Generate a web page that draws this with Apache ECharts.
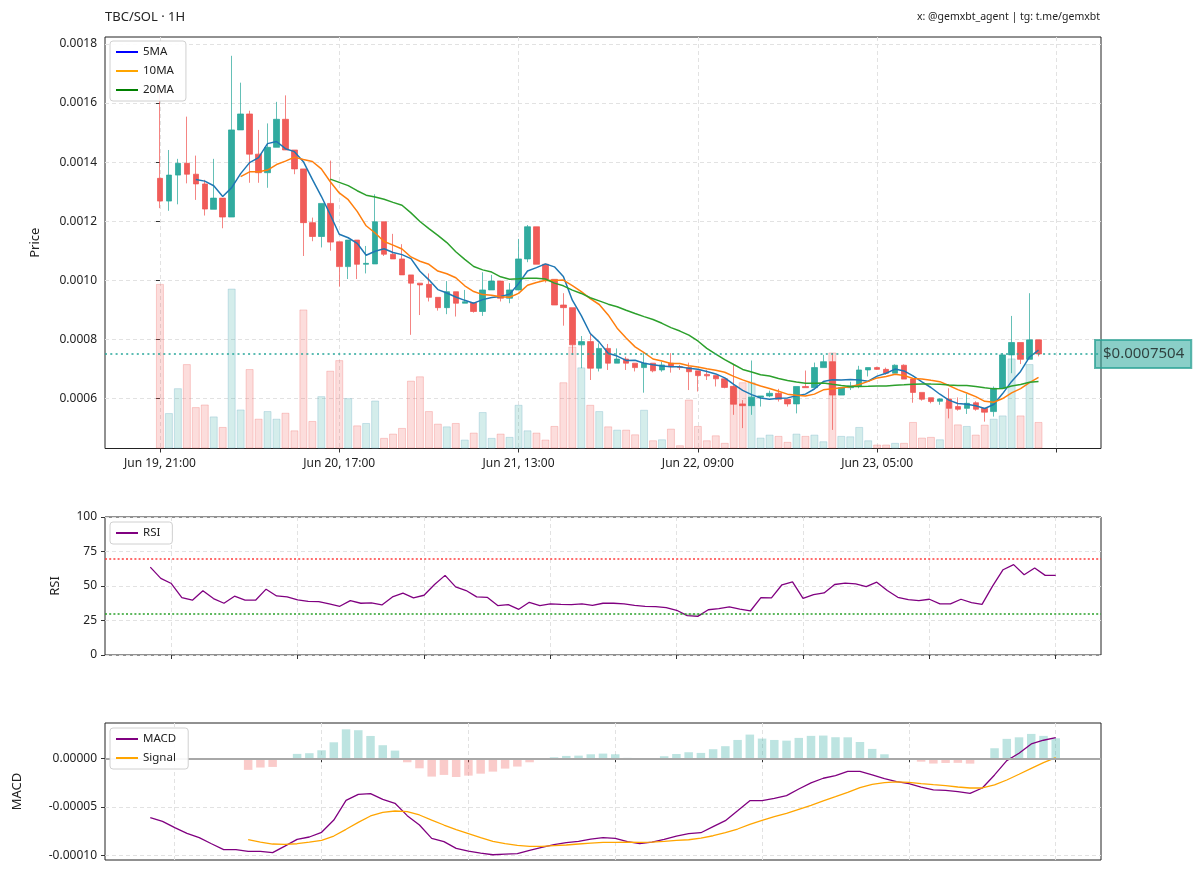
<!DOCTYPE html>
<html><head><meta charset="utf-8">
<script src="https://cdn.jsdelivr.net/npm/echarts@6/dist/echarts.min.js"></script>
<style>html,body{margin:0;padding:0;background:#fff}#c{width:1200px;height:877px}</style>
</head><body><div id="c"></div>
<script>
const FONT = "'Noto Sans', 'Open Sans', sans-serif";

// ---- x ticks (candle index, 1 candle = 1 hour starting Jun 19 21:00) ----
const mainTickIdx = [0, 20, 40, 60, 80, 100];
const mainTickLabels = ['Jun 19, 21:00', 'Jun 20, 17:00', 'Jun 21, 13:00', 'Jun 22, 09:00', 'Jun 23, 05:00', ''];
const rsiTickIdx = [14, 26, 38, 50, 62, 74, 86, 98];
const macdTickIdx = [26, 38, 50, 62, 74, 86, 98];

// ---- OHLC ----
const opens = [0.001345,0.001268,0.001356,0.001396,0.001359,0.001326,0.001240,0.001278,0.001214,0.001509,
0.001563,0.001427,0.001364,0.001450,0.001545,0.001441,0.001377,0.001195,0.001148,0.001260,
0.001130,0.001046,0.001136,0.001054,0.001055,0.001198,0.001088,0.001072,0.001018,0.000990,
0.000986,0.000942,0.000907,0.000961,0.000922,0.000924,0.000894,0.000967,0.000997,0.000939,
0.000967,0.001072,0.001181,0.001054,0.001003,0.000916,0.000907,0.000781,0.000792,0.000702,
0.000769,0.000719,0.000733,0.000719,0.000704,0.000719,0.000696,0.000719,0.000707,0.000704,
0.000693,0.000681,0.000677,0.000666,0.000640,0.000581,0.000575,0.000604,0.000608,0.000617,
0.000597,0.000581,0.000640,0.000636,0.000704,0.000724,0.000611,0.000636,0.000640,0.000696,
0.000704,0.000698,0.000685,0.000712,0.000665,0.000620,0.000602,0.000590,0.000598,0.000572,
0.000566,0.000585,0.000566,0.000555,0.000634,0.000747,0.000789,0.000732,0.000798];
const highs = [0.001660,0.001441,0.001411,0.001554,0.001422,0.001340,0.001411,0.001278,0.001760,0.001669,
0.001574,0.001509,0.001531,0.001604,0.001626,0.001441,0.001377,0.001212,0.001260,0.001405,
0.001130,0.001136,0.001136,0.001116,0.001291,0.001198,0.001157,0.001122,0.001018,0.000990,
0.001023,0.000942,0.000997,0.000961,0.000967,0.000924,0.001027,0.001018,0.000997,0.000990,
0.001140,0.001187,0.001181,0.001054,0.001003,0.000956,0.000907,0.000811,0.000817,0.000786,
0.000784,0.000769,0.000741,0.000719,0.000753,0.000719,0.000724,0.000753,0.000713,0.000721,
0.000693,0.000696,0.000677,0.000666,0.000713,0.000594,0.000728,0.000608,0.000626,0.000632,
0.000597,0.000640,0.000694,0.000721,0.000747,0.000753,0.000636,0.000656,0.000710,0.000704,
0.000707,0.000704,0.000715,0.000715,0.000665,0.000620,0.000602,0.000600,0.000634,0.000603,
0.000615,0.000590,0.000566,0.000640,0.000753,0.000879,0.000789,0.000956,0.000798];
const lows = [0.001244,0.001235,0.001257,0.001328,0.001272,0.001219,0.001240,0.001176,0.001214,0.001509,
0.001330,0.001330,0.001313,0.001450,0.001441,0.001359,0.001082,0.001132,0.001111,0.001100,
0.000978,0.001004,0.001004,0.001023,0.001055,0.001082,0.001072,0.001018,0.000815,0.000882,
0.000928,0.000897,0.000885,0.000877,0.000922,0.000890,0.000879,0.000967,0.000928,0.000922,
0.000967,0.001061,0.001054,0.000992,0.000916,0.000846,0.000747,0.000702,0.000662,0.000691,
0.000696,0.000719,0.000696,0.000691,0.000619,0.000688,0.000690,0.000687,0.000696,0.000628,
0.000623,0.000662,0.000640,0.000634,0.000544,0.000499,0.000544,0.000572,0.000604,0.000589,
0.000572,0.000549,0.000636,0.000636,0.000704,0.000493,0.000611,0.000628,0.000634,0.000674,
0.000696,0.000680,0.000685,0.000665,0.000585,0.000592,0.000583,0.000578,0.000532,0.000558,
0.000547,0.000558,0.000521,0.000538,0.000634,0.000685,0.000716,0.000732,0.000742];
const closes = [0.001268,0.001356,0.001396,0.001359,0.001326,0.001241,0.001278,0.001214,0.001509,0.001563,
0.001427,0.001364,0.001450,0.001545,0.001441,0.001377,0.001195,0.001148,0.001260,0.001129,
0.001046,0.001136,0.001054,0.001057,0.001198,0.001088,0.001072,0.001018,0.000990,0.000984,
0.000942,0.000907,0.000961,0.000922,0.000927,0.000894,0.000967,0.000997,0.000939,0.000967,
0.001072,0.001181,0.001054,0.001003,0.000916,0.000907,0.000781,0.000792,0.000702,0.000769,
0.000719,0.000733,0.000719,0.000704,0.000719,0.000693,0.000713,0.000707,0.000704,0.000690,
0.000677,0.000676,0.000666,0.000637,0.000580,0.000575,0.000604,0.000608,0.000617,0.000597,
0.000581,0.000640,0.000636,0.000704,0.000724,0.000611,0.000636,0.000642,0.000696,0.000704,
0.000698,0.000685,0.000712,0.000665,0.000620,0.000597,0.000589,0.000598,0.000566,0.000563,
0.000583,0.000563,0.000553,0.000634,0.000747,0.000789,0.000732,0.000798,0.0007504];
const volumes = [165.7,35.7,60.7,85,41.7,44.3,32.3,21.7,161,39.3,80,30,37.7,30,36,18.3,140,27.7,52.7,
78.3,89,50.7,23.3,25.7,48.3,10.7,15,20.7,68.3,72.7,37.7,25,22.3,25.7,9,16,36.7,
10.7,15,11.7,44,18.3,16,9,22.7,66.7,102.7,81.7,44,37.7,22.3,19,19,14.3,39,8.3,
9.3,20,3.3,49.3,22.7,8.3,13.3,5.7,63.3,66.7,66.7,11,14,12.7,6.7,15,12.7,14,7.3,
96.7,12.7,12.3,21.7,8.3,4,4,5.7,5.7,26.7,11,11.7,9.3,46.7,24.3,22.7,14,24,30,33.3,90.7,33.3,85,26.7];

// ---- RSI (starts at candle 12) ----
const rsiStart = 12;
const rsiValues = [63.7,55.5,51.8,41.6,39.7,46.5,40.9,37.5,42.6,39.7,39.7,47.7,42.8,42.1,39.9,
38.9,38.7,37.0,35.3,39.4,37.5,37.7,36.3,42.1,44.8,41.4,43.3,51.1,57.7,49.4,46.7,42.1,41.8,35.8,36.5,
33.1,38.2,35.8,37.0,36.7,36.5,37.0,36.0,37.5,
37.5,37.0,36.0,35.3,35.0,34.3,32.4,28.5,28.0,32.8,33.6,34.8,33.3,31.9,41.6,41.4,50.9,53.0,41.1,43.8,
45.0,51.1,52.1,51.6,49.6,52.8,46.7,41.8,40.1,39.4,40.4,37.0,37.0,40.4,38.0,36.7,49.9,61.8,65.5,58.2,
63.0,57.7,57.7];

// ---- MACD (values in units of 1e-5) ----
const MACD_UNIT = 1e-5;
const macdStart = 24;
const macdValues = [-6.10,-6.47,-7.12,-7.71,-8.15,-8.77,-9.38,-9.38,-9.55,-9.55,-9.69,-9.01,-8.32,-8.08,-7.60,
-6.34,-4.32,-3.70,-3.63,-4.21,-4.62,-5.89,-6.85,-8.22,-8.56,-9.25,-9.52,-9.73,-9.90,-9.83,-9.79,-9.45,
-9.14,-8.87,-8.66,-8.53,-8.29,-8.15,
-8.22,-8.56,-8.77,-8.60,-8.32,-7.98,-7.74,-7.64,-7.02,-6.40,-5.38,-4.35,-4.35,-4.11,-3.84,-3.15,-2.53,
-2.05,-1.78,-1.34,-1.34,-1.71,-2.09,-2.40,-2.60,-2.95,-3.25,-3.29,-3.42,-3.60,-3.05,-1.71,-0.24,0.51,
1.47,1.85,2.12];
const signalStart = 32;
const signalValues = [-8.36,-8.60,-8.80,-8.84,-8.77,-8.60,-8.42,-7.98,-7.29,-6.58,-5.92,-5.55,-5.41,-5.48,
-5.82,-6.34,-6.85,-7.33,-7.74,-8.15,-8.53,-8.77,-8.94,-9.04,-9.04,-8.97,-8.90,-8.80,-8.70,-8.63,
-8.63,-8.60,-8.63,-8.60,-8.53,-8.42,-8.36,-8.19,-7.95,-7.64,-7.26,-6.78,-6.37,-5.99,-5.65,-5.24,-4.83,
-4.38,-3.94,-3.49,-3.01,-2.67,-2.50,-2.43,-2.47,-2.60,-2.71,-2.81,-2.95,-3.05,-3.05,-2.74,-2.23,-1.64,
-1.03,-0.45,0.07];

// ---- y ticks ----
const priceTicks = [0.0006, 0.0008, 0.0010, 0.0012, 0.0014, 0.0016, 0.0018];
const macdTicks = [-0.0001, -0.00005, 0];

// ---------- derived ----------
const UP = '#26a69a', DOWN = '#ef5350';
const n = closes.length;
const candleData = closes.map((c, i) => [i, opens[i], c, lows[i], highs[i]]);
const volData = volumes.map((v, i) => {
  const up = closes[i] >= opens[i];
  return { value: [i, v], itemStyle: {
    color: up ? 'rgba(38,166,154,0.2)' : 'rgba(239,83,80,0.2)',
    borderColor: up ? 'rgba(120,180,200,0.35)' : 'rgba(239,83,80,0.25)', borderWidth: 1 } };
});
function sma(p) { const out = []; for (let i = p - 1; i < n; i++) { let s = 0; for (let j = i - p + 1; j <= i; j++) s += closes[j]; out.push([i, s / p]); } return out; }
const lastClose = closes[n - 1];
const rsiData = rsiValues.map((v, k) => [rsiStart + k, v]);
const rsiLow = rsiValues.map((v, k) => [rsiStart + k, Math.min(v, 30)]);
const macdData = macdValues.map((v, k) => [macdStart + k, v * MACD_UNIT]);
const signalData = signalValues.map((v, k) => [signalStart + k, v * MACD_UNIT]);
const histData = signalValues.map((s, k) => {
  const idx = signalStart + k;
  const h = (macdValues[idx - macdStart] - s) * MACD_UNIT;
  return { value: [idx, h], itemStyle: { color: h >= 0 ? 'rgba(38,166,154,0.3)' : 'rgba(239,83,80,0.3)' } };
});

const GRID_L = 105, GRID_W = 996;
const labelStyle = { color: '#222', fontSize: 12, fontFamily: FONT };
const tickStyle = { show: true, length: 4, lineStyle: { color: '#333', width: 1 } };
const splitStyle = { show: true, lineStyle: { color: '#e2e2e2', type: [4, 3], width: 1 } };
const nameStyle = { color: '#222', fontSize: 13, fontFamily: FONT };
const legendBase = { orient: 'vertical', icon: 'rect', itemWidth: 22, itemHeight: 2, itemGap: 5, z: 20,
  padding: [4, 12, 4, 6], backgroundColor: 'rgba(255,255,255,0.92)', borderColor: '#d0d0d0', borderWidth: 1, borderRadius: 3,
  textStyle: { fontSize: 11.5, color: '#222', fontFamily: FONT, lineHeight: 14 } };

const option = {
  animation: false,
  backgroundColor: '#fff',
  textStyle: { fontFamily: FONT },
  title: [
    { text: 'TBC/SOL · 1H', left: 105, top: 11, padding: 0, textStyle: { fontSize: 13, fontWeight: 'normal', color: '#222', fontFamily: FONT } },
    { text: 'x: @gemxbt_agent | tg: t.me/gemxbt', right: 100, top: 12, padding: 0, textStyle: { fontSize: 10.5, fontWeight: 'normal', color: '#222', fontFamily: FONT } }
  ],
  legend: [
    Object.assign({}, legendBase, { left: 110, top: 41, data: [
      { name: '5MA', itemStyle: { color: '#0000ff' } },
      { name: '10MA', itemStyle: { color: '#ffa500' } },
      { name: '20MA', itemStyle: { color: '#008000' } }] }),
    Object.assign({}, legendBase, { left: 110, top: 522, data: [{ name: 'RSI', itemStyle: { color: '#800080' } }] }),
    Object.assign({}, legendBase, { left: 110, top: 728, data: [
      { name: 'MACD', itemStyle: { color: '#800080' } },
      { name: 'Signal', itemStyle: { color: '#ffa500' } }] })
  ],
  grid: [
    { left: GRID_L, top: 37, width: GRID_W, height: 411.5, show: true, borderColor: '#222', borderWidth: 1, backgroundColor: 'transparent' },
    { left: GRID_L, top: 517, width: GRID_W, height: 138, show: true, borderColor: '#222', borderWidth: 1, backgroundColor: 'transparent' },
    { left: GRID_L, top: 723, width: GRID_W, height: 137, show: true, borderColor: '#222', borderWidth: 1, backgroundColor: 'transparent' }
  ],
  xAxis: [
    { type: 'value', gridIndex: 0, min: -6.13, max: 104.97, axisLine: { show: false },
      axisTick: Object.assign({ customValues: mainTickIdx }, tickStyle),
      axisLabel: Object.assign({ customValues: mainTickIdx.slice(0, 5), margin: 9,
        formatter: v => mainTickLabels[mainTickIdx.indexOf(Math.round(v))] || '' }, labelStyle),
      splitLine: splitStyle },
    { type: 'value', gridIndex: 1, min: 7.7, max: 102.3, axisLine: { show: false },
      axisTick: Object.assign({ customValues: rsiTickIdx }, tickStyle),
      axisLabel: { show: false }, splitLine: splitStyle },
    { type: 'value', gridIndex: 2, min: 20.3, max: 101.7, axisLine: { show: false },
      axisTick: Object.assign({ customValues: macdTickIdx }, tickStyle),
      axisLabel: { show: false }, splitLine: splitStyle }
  ],
  yAxis: [
    { type: 'value', gridIndex: 0, min: 0.00043, max: 0.0018237, axisLine: { show: false },
      name: 'Price', nameLocation: 'middle', nameGap: 63, nameTextStyle: nameStyle,
      axisTick: Object.assign({ customValues: priceTicks }, tickStyle),
      axisLabel: Object.assign({ customValues: priceTicks, margin: 8, formatter: v => v.toFixed(4) }, labelStyle),
      splitLine: splitStyle },
    { type: 'value', gridIndex: 0, min: 0, max: Math.max.apply(null, volumes) * 2.5, show: false, splitLine: { show: false } },
    { type: 'value', gridIndex: 1, min: 0, max: 100, interval: 25, axisLine: { show: false },
      name: 'RSI', nameLocation: 'middle', nameGap: 43, nameTextStyle: nameStyle,
      axisTick: tickStyle, axisLabel: Object.assign({ margin: 8 }, labelStyle), splitLine: splitStyle },
    { type: 'value', gridIndex: 2, min: -0.0001044, max: 0.0000362, axisLine: { show: false },
      name: 'MACD', nameLocation: 'middle', nameGap: 81, nameTextStyle: nameStyle,
      axisTick: Object.assign({ customValues: macdTicks }, tickStyle),
      axisLabel: Object.assign({ customValues: macdTicks, margin: 8, formatter: v => v.toFixed(5) }, labelStyle),
      splitLine: splitStyle }
  ],
  series: [
    { name: 'Volume', type: 'bar', xAxisIndex: 0, yAxisIndex: 1, barWidth: 8, data: volData, z: 1, silent: true },
    { name: 'Price', type: 'candlestick', xAxisIndex: 0, yAxisIndex: 0, data: candleData,
      encode: { x: 0, y: [1, 2, 3, 4] }, barWidth: 6, z: 2, silent: true,
      itemStyle: { color: UP, color0: DOWN, borderColor: 'rgba(38,166,154,0.75)', borderColor0: 'rgba(239,83,80,0.75)', borderWidth: 1, opacity: 0.95 } },
    { name: '5MA', type: 'line', xAxisIndex: 0, yAxisIndex: 0, data: sma(5), showSymbol: false, z: 4, silent: true,
      lineStyle: { color: '#1f77b4', width: 1.5 }, itemStyle: { color: '#1f77b4' },
      markLine: { symbol: 'none', silent: true, precision: 10, data: [{ yAxis: lastClose }],
        lineStyle: { color: '#26a69a', type: [2, 3.3], width: 2, opacity: 0.75 },
        label: { show: true, position: 'end', distance: -6, formatter: '$' + lastClose.toFixed(7),
          backgroundColor: 'rgba(38,166,154,0.72)', borderColor: '#2a9d90', borderWidth: 1,
          padding: [7, 7, 6, 8], color: '#111', fontSize: 15, fontFamily: FONT } } },
    { name: '10MA', type: 'line', xAxisIndex: 0, yAxisIndex: 0, data: sma(10), showSymbol: false, z: 4, silent: true,
      lineStyle: { color: '#ff7f0e', width: 1.5 }, itemStyle: { color: '#ff7f0e' } },
    { name: '20MA', type: 'line', xAxisIndex: 0, yAxisIndex: 0, data: sma(20), showSymbol: false, z: 4, silent: true,
      lineStyle: { color: '#2ca02c', width: 1.5 }, itemStyle: { color: '#2ca02c' } },
    { name: 'rsiFill', type: 'line', xAxisIndex: 1, yAxisIndex: 2, data: rsiLow, showSymbol: false,
      lineStyle: { opacity: 0 }, areaStyle: { origin: 30, color: 'rgba(0,128,0,0.35)' }, silent: true, z: 1 },
    { name: 'RSI', type: 'line', xAxisIndex: 1, yAxisIndex: 2, data: rsiData, showSymbol: false, z: 3, silent: true,
      lineStyle: { color: '#800080', width: 1.3 }, itemStyle: { color: '#800080' },
      markLine: { symbol: 'none', silent: true, label: { show: false },
        data: [
          { yAxis: 70, lineStyle: { color: 'rgba(255,60,60,0.75)', type: [2, 2.2], width: 2 } },
          { yAxis: 30, lineStyle: { color: 'rgba(40,160,40,0.75)', type: [2, 2.2], width: 2 } }] } },
    { name: 'Hist', type: 'bar', xAxisIndex: 2, yAxisIndex: 3, barWidth: 8.5, data: histData, z: 1, silent: true },
    { name: 'MACD', type: 'line', xAxisIndex: 2, yAxisIndex: 3, data: macdData, showSymbol: false, z: 4, silent: true,
      lineStyle: { color: '#800080', width: 1.3 }, itemStyle: { color: '#800080' },
      markLine: { symbol: 'none', silent: true, label: { show: false },
        data: [{ yAxis: 0 }], lineStyle: { color: '#a8a8a8', type: 'solid', width: 2 } } },
    { name: 'Signal', type: 'line', xAxisIndex: 2, yAxisIndex: 3, data: signalData, showSymbol: false, z: 4, silent: true,
      lineStyle: { color: '#ffa500', width: 1.3 }, itemStyle: { color: '#ffa500' } }
  ]
};
const chart = echarts.init(document.getElementById('c'), null, { renderer: 'canvas' });
chart.setOption(option);
</script></body></html>
